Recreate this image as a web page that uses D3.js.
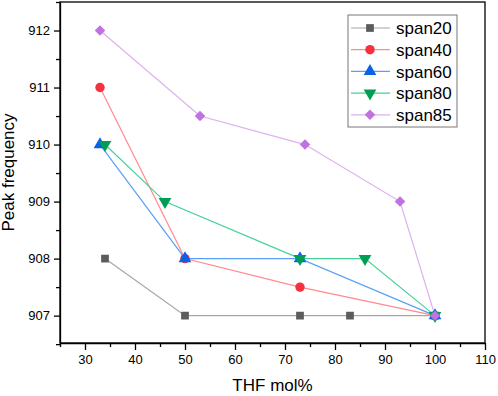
<!DOCTYPE html>
<html lang="en">
<head>
<meta charset="utf-8" />
<title>Peak frequency vs THF mol%</title>
<style>
    body { margin: 0; background: #fff; }
    .axis text { font: 13px Arial, "Liberation Sans", sans-serif; fill: #000; }
    .axis path, .axis line { stroke: #000; stroke-width: 1.3; fill: none; }
    .title { font: 17px Arial, "Liberation Sans", sans-serif; fill: #000; }
    .legend text { font: 17px Arial, "Liberation Sans", sans-serif; fill: #000; }
</style>
</head>
<body>
<div id="graph"></div>
<script src="https://cdn.jsdelivr.net/npm/d3@7"></script>
<script>
    var xTicks = [30, 40, 50, 60, 70, 80, 90, 100, 110];
    var yTicks = [907, 908, 909, 910, 911, 912];

    var span20 = [[34, 908], [50, 907], [73, 907], [83, 907], [100, 907]];
    var span40 = [[33, 911], [50, 908], [73, 907.5], [100, 907]];
    var span60 = [[33, 910], [50, 908], [73, 908], [100, 907]];
    var span80 = [[34, 910], [46, 909], [73, 908], [86, 908], [100, 907]];
    var span85 = [[33, 912], [53, 910.5], [74, 910], [93, 909], [100, 907]];

    var series = [
        { name: "span20", data: span20, marker: "#5c5c5c", line: "#a6a6a6", symbol: d3.symbolSquare, size: 60, rot: 0 },
        { name: "span40", data: span40, marker: "#f6313e", line: "#ff8a8f", symbol: d3.symbolCircle, size: 70, rot: 0 },
        { name: "span60", data: span60, marker: "#0a62e6", line: "#5ba0f5", symbol: d3.symbolTriangle, size: 70, rot: 0 },
        { name: "span80", data: span80, marker: "#009e52", line: "#45d196", symbol: d3.symbolTriangle, size: 70, rot: 180 },
        { name: "span85", data: span85, marker: "#c271e0", line: "#ddb0ef", symbol: d3.symbolSquare, size: 55, rot: 45 }
    ];

    var W = 498, H = 396;
    var margin = { top: 2, right: 13, bottom: 53, left: 60 };
    var width = W - margin.left - margin.right,
        height = H - margin.top - margin.bottom;

    var x = d3.scaleLinear().domain([25, 110]).range([0, width]);
    var y = d3.scaleLinear().domain([906.52, 912.5]).range([height, 0]);

    var svg = d3.select("#graph").append("svg")
        .attr("width", W)
        .attr("height", H)
        .append("g")
        .attr("transform", "translate(" + margin.left + "," + margin.top + ")");

    // frame
    svg.append("rect")
        .attr("width", width).attr("height", height)
        .attr("fill", "none").attr("stroke", "#000").attr("stroke-width", 1.3);

    // minor ticks
    svg.append("g")
        .attr("class", "x axis")
        .attr("transform", "translate(0," + height + ")")
        .call(d3.axisBottom(x).tickValues(d3.range(25, 111, 10)).tickSize(4).tickFormat(""))
        .select(".domain").remove();
    svg.append("g")
        .attr("class", "y axis")
        .call(d3.axisLeft(y).tickValues([906.5, 907.5, 908.5, 909.5, 910.5, 911.5, 912.5]).tickSize(4).tickFormat(""))
        .select(".domain").remove();

    svg.append("g")
        .attr("class", "x axis")
        .attr("transform", "translate(0," + height + ")")
        .call(d3.axisBottom(x).tickValues(xTicks).tickSize(7).tickPadding(5).tickSizeOuter(0));

    svg.append("g")
        .attr("class", "y axis")
        .call(d3.axisLeft(y).tickValues(yTicks).tickFormat(d3.format("d")).tickSize(6).tickPadding(4).tickSizeOuter(0));

    svg.append("text")
        .attr("class", "title")
        .attr("x", width / 2)
        .attr("y", height + 48)
        .attr("text-anchor", "middle")
        .text("THF mol%");

    svg.append("text")
        .attr("class", "title")
        .attr("transform", "translate(" + (-46) + "," + (height / 2) + ") rotate(-90)")
        .attr("text-anchor", "middle")
        .text("Peak frequency");

    var line = d3.line()
        .x(function (d) { return x(d[0]); })
        .y(function (d) { return y(d[1]); });

    series.forEach(function (s) {
        svg.append("path")
            .attr("d", line(s.data))
            .attr("fill", "none")
            .attr("stroke", s.line)
            .attr("stroke-width", 1.2);
    });

    series.forEach(function (s) {
        svg.append("g").selectAll("path")
            .data(s.data)
            .enter().append("path")
            .attr("d", d3.symbol().type(s.symbol).size(s.size))
            .attr("transform", function (d) {
                return "translate(" + x(d[0]) + "," + y(d[1]) + ") rotate(" + s.rot + ")";
            })
            .attr("fill", s.marker);
    });

    // legend
    var lg = svg.append("g")
        .attr("class", "legend")
        .attr("transform", "translate(" + (348 - margin.left) + "," + (15 - margin.top) + ")");
    lg.append("rect")
        .attr("width", 109).attr("height", 112)
        .attr("fill", "#fff").attr("stroke", "#777").attr("stroke-width", 1);
    var item = lg.selectAll(".item").data(series).enter().append("g")
        .attr("transform", function (d, i) { return "translate(0," + (13 + i * 21.7) + ")"; });
    item.append("line")
        .attr("x1", 3).attr("x2", 42)
        .attr("stroke", function (d) { return d.line; })
        .attr("stroke-width", 1.2);
    item.append("path")
        .attr("d", function (d) { return d3.symbol().type(d.symbol).size(d.size)(); })
        .attr("transform", function (d) { return "translate(22,0) rotate(" + d.rot + ")"; })
        .attr("fill", function (d) { return d.marker; });
    item.append("text")
        .attr("x", 48)
        .attr("dy", "0.36em")
        .text(function (d) { return d.name; });
</script>
</body>
</html>
